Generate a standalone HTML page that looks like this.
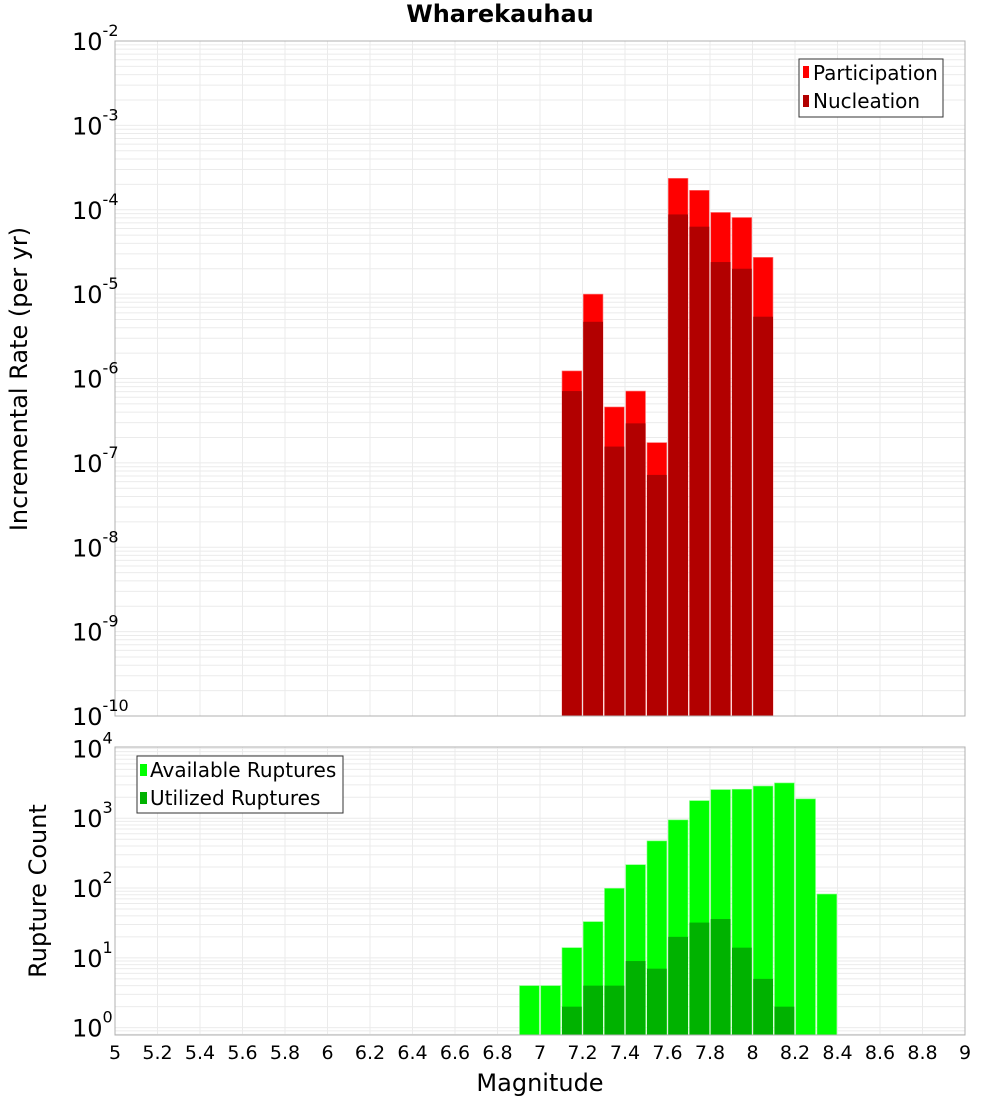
<!DOCTYPE html>
<html><head><meta charset="utf-8"><style>
body{margin:0;background:#fff;font-family:"Liberation Sans","DejaVu Sans",sans-serif}
svg text{font-family:"DejaVu Sans","Liberation Sans",sans-serif}
</style></head><body>
<svg id="c" width="1000" height="1100" xmlns="http://www.w3.org/2000/svg"></svg>
<script>
const binStarts=[6.9,7.0,7.1,7.2,7.3,7.4,7.5,7.6,7.7,7.8,7.9,8.0,8.1,8.2,8.3];
const rateBins=[7.1,7.2,7.3,7.4,7.5,7.6,7.7,7.8,7.9,8.0];
const participation=[1.23e-6,1.0e-5,4.6e-7,7.1e-7,1.74e-7,2.36e-4,1.7e-4,9.3e-5,8.1e-5,2.73e-5];
const nucleation=[7.1e-7,4.7e-6,1.56e-7,2.94e-7,7.2e-8,8.8e-5,6.3e-5,2.4e-5,2.0e-5,5.4e-6];
const available=[4,4,14,33,99,216,473,946,1786,2570,2600,2890,3200,1890,82];
const utilized=[0,0,2,4,4,9,7,20,32,36,14,5,2,0,0];
const xTicks=[5,5.2,5.4,5.6,5.8,6,6.2,6.4,6.6,6.8,7,7.2,7.4,7.6,7.8,8,8.2,8.4,8.6,8.8,9];
const topExps=[-2,-3,-4,-5,-6,-7,-8,-9,-10];
const botExps=[0,1,2,3,4];
const NS="http://www.w3.org/2000/svg";
const svg=document.getElementById('c');
function el(t,a,p){const e=document.createElementNS(NS,t);for(const k in a)e.setAttribute(k,a[k]);(p||svg).appendChild(e);return e;}
const X0=115,X1=965;
const x=v=>X0+(v-5)/4*(X1-X0);
const T0=41,T1=716;
const yT=v=>T0+(-2-Math.log10(v))/8*(T1-T0);
const B0=747,B1=1035,bMax=4.02,bMin=-0.105;
const yB=v=>B0+(bMax-Math.log10(v))/(bMax-bMin)*(B1-B0);
function grid(y,top,bot,lo,hi,name){
  const g=el('g',{});
  for(let e=lo;e<=hi;e++)for(let m=1;m<10;m++){const v=m*Math.pow(10,e);const yy=y(v);if(yy<top-0.5||yy>bot+0.5)continue;
    el('line',{x1:X0,x2:X1,y1:yy,y2:yy,stroke:'#ebebeb','stroke-width':1},g);}
  xTicks.forEach(t=>el('line',{x1:x(t),x2:x(t),y1:top,y2:bot,stroke:'#ebebeb','stroke-width':1},g));
}
grid(yT,T0,T1,-10,-2,'top-grid');
grid(yB,B0,B1,-1,4,'bottom-grid');
const w=x(5.1)-x(5)-1.5;
rateBins.forEach((b,i)=>{
  let r=el('rect',{x:x(b)+0.75,y:yT(participation[i]),width:w,height:T1-yT(participation[i]),fill:'#ff0000',stroke:'#ff8080','stroke-width':0.6});
  
  r=el('rect',{x:x(b)+0.75,y:yT(nucleation[i]),width:w,height:T1-yT(nucleation[i]),fill:'#b20000'});
  
});
binStarts.forEach((b,i)=>{
  let r=el('rect',{x:x(b)+0.75,y:yB(available[i]),width:w,height:B1-yB(available[i]),fill:'#00ff00',stroke:'#80ff80','stroke-width':0.6});
  
  if(utilized[i]>0){r=el('rect',{x:x(b)+0.75,y:yB(utilized[i]),width:w,height:B1-yB(utilized[i]),fill:'#00b200'});
  }
});
el('rect',{x:X0,y:T0,width:X1-X0,height:T1-T0,fill:'none',stroke:'#b0b0b0','stroke-width':1});
el('rect',{x:X0,y:B0,width:X1-X0,height:B1-B0,fill:'none',stroke:'#b0b0b0','stroke-width':1});
function ylab(yy,e,name){
  const t=el('text',{x:72,y:yy+9,'text-anchor':'start','font-size':24,fill:'#000'});
  
  const a=document.createElementNS(NS,'tspan');a.textContent='10';t.appendChild(a);
  const s=document.createElementNS(NS,'tspan');s.setAttribute('dy','-14');s.setAttribute('font-size','16');s.textContent=String(e);t.appendChild(s);
}
topExps.forEach(e=>ylab(yT(Math.pow(10,e)),e,'top-y-tick-label'));
botExps.forEach(e=>ylab(yB(Math.pow(10,e)),e,'bottom-y-tick-label'));
xTicks.forEach(t=>{const tx=el('text',{x:x(t),y:1059,'text-anchor':'middle','font-size':19,fill:'#000'});tx.textContent=String(t);
  });
</script>
<svg width="1000" height="1100" style="position:absolute;left:0;top:0" xmlns="http://www.w3.org/2000/svg">
<text x="500" y="22" text-anchor="middle" font-size="24" font-weight="bold" font-family="DejaVu Sans, sans-serif">Wharekauhau</text>
<text transform="translate(27,379) rotate(-90)" text-anchor="middle" font-size="24" font-family="DejaVu Sans, sans-serif">Incremental Rate (per yr)</text>
<text transform="translate(46,891) rotate(-90)" text-anchor="middle" font-size="24" font-family="DejaVu Sans, sans-serif">Rupture Count</text>
<text x="540" y="1091" text-anchor="middle" font-size="24" font-family="DejaVu Sans, sans-serif">Magnitude</text>
<g font-family="DejaVu Sans, sans-serif" font-size="20">
<rect x="799" y="59" width="144" height="58" fill="#fff" stroke="#333"/>
<rect x="803" y="66" width="6" height="12" fill="#ff0000"/><text x="813" y="80">Participation</text>
<rect x="803" y="95" width="6" height="12" fill="#b20000"/><text x="813" y="108">Nucleation</text>
</g>
<g font-family="DejaVu Sans, sans-serif" font-size="20">
<rect x="137" y="756" width="206" height="57" fill="#fff" stroke="#333"/>
<rect x="140" y="764" width="7" height="12" fill="#00ff00"/><text x="150" y="777">Available Ruptures</text>
<rect x="140" y="792" width="7" height="12" fill="#00b200"/><text x="150" y="805">Utilized Ruptures</text>
</g>
</svg>
</body></html>
